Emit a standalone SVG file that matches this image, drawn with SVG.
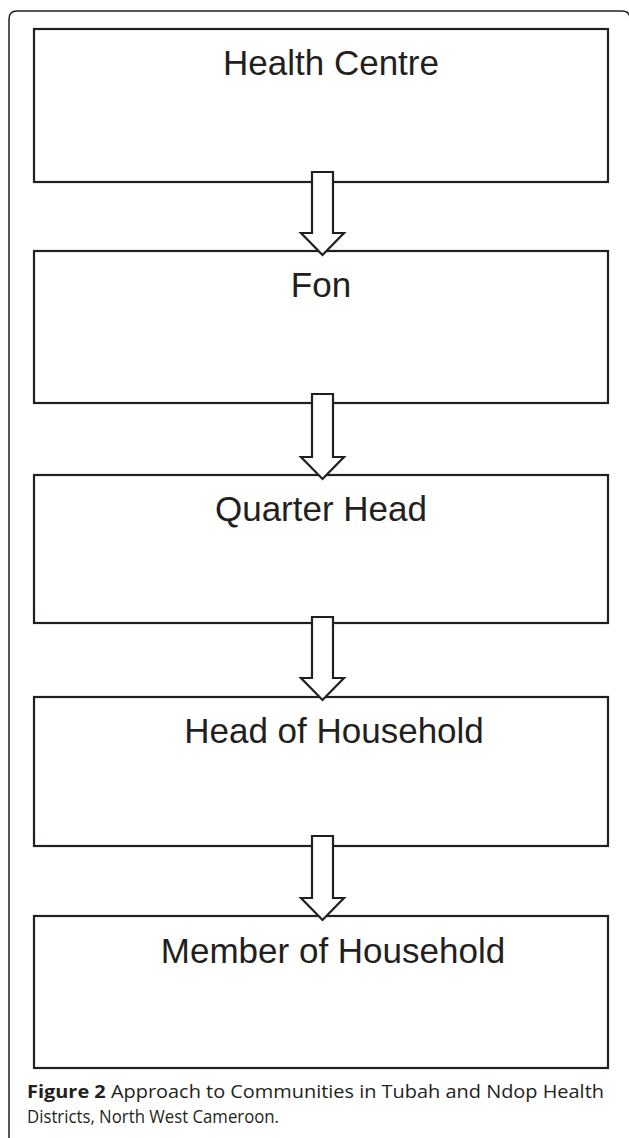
<svg xmlns="http://www.w3.org/2000/svg" width="629" height="1138" viewBox="0 0 629 1138">
<style>
.box{fill:#fff;stroke:#231f20;stroke-width:2.2}
.lbl{font-family:"Liberation Sans",Arial,sans-serif;font-size:35px;fill:#231f20;text-anchor:middle}
.arr{fill:#fff;stroke:#231f20;stroke-width:2.2;stroke-linejoin:miter}
.cap{font-family:"Open Sans","Liberation Sans",sans-serif;font-size:18px;fill:#231f20}
</style>
<rect width="629" height="1138" fill="#fff"/>
<path d="M9,1138 V19 Q9,11 17,11 H622 Q630,11 630,19 V1138" fill="none" stroke="#231f20" stroke-width="1.5"/>
<g id="node-health-centre"><rect class="box" x="34" y="29" width="574" height="153"/><text class="lbl" x="331" y="75">Health Centre</text></g>
<g id="node-fon"><rect class="box" x="34" y="251" width="574" height="152"/><text class="lbl" x="321" y="297">Fon</text></g>
<g id="node-quarter-head"><rect class="box" x="34" y="475" width="574" height="148"/><text class="lbl" x="321" y="521">Quarter Head</text></g>
<g id="node-head-of-household"><rect class="box" x="34" y="697" width="574" height="149"/><text class="lbl" x="334" y="743">Head of Household</text></g>
<g id="node-member-of-household"><rect class="box" x="34" y="916" width="574" height="152"/><text class="lbl" x="333" y="963">Member of Household</text></g>
<g id="connectors">
<polygon class="arr" points="312,172 333,172 333,233 344,233 322.5,255 301,233 312,233"/>
<polygon class="arr" points="312,394 333,394 333,457 344,457 322.5,479 301,457 312,457"/>
<polygon class="arr" points="312,617 333,617 333,678 344,678 322.5,700 301,678 312,678"/>
<polygon class="arr" points="312,836 333,836 333,898 344,898 322.5,920 301,898 312,898"/>
</g>
<g id="caption">
<text class="cap" x="27" y="1098" textLength="577" lengthAdjust="spacingAndGlyphs"><tspan font-weight="bold">Figure 2</tspan> Approach to Communities in Tubah and Ndop Health</text>
<text class="cap" x="27" y="1123" textLength="252" lengthAdjust="spacingAndGlyphs">Districts, North West Cameroon.</text>
</g>
</svg>
